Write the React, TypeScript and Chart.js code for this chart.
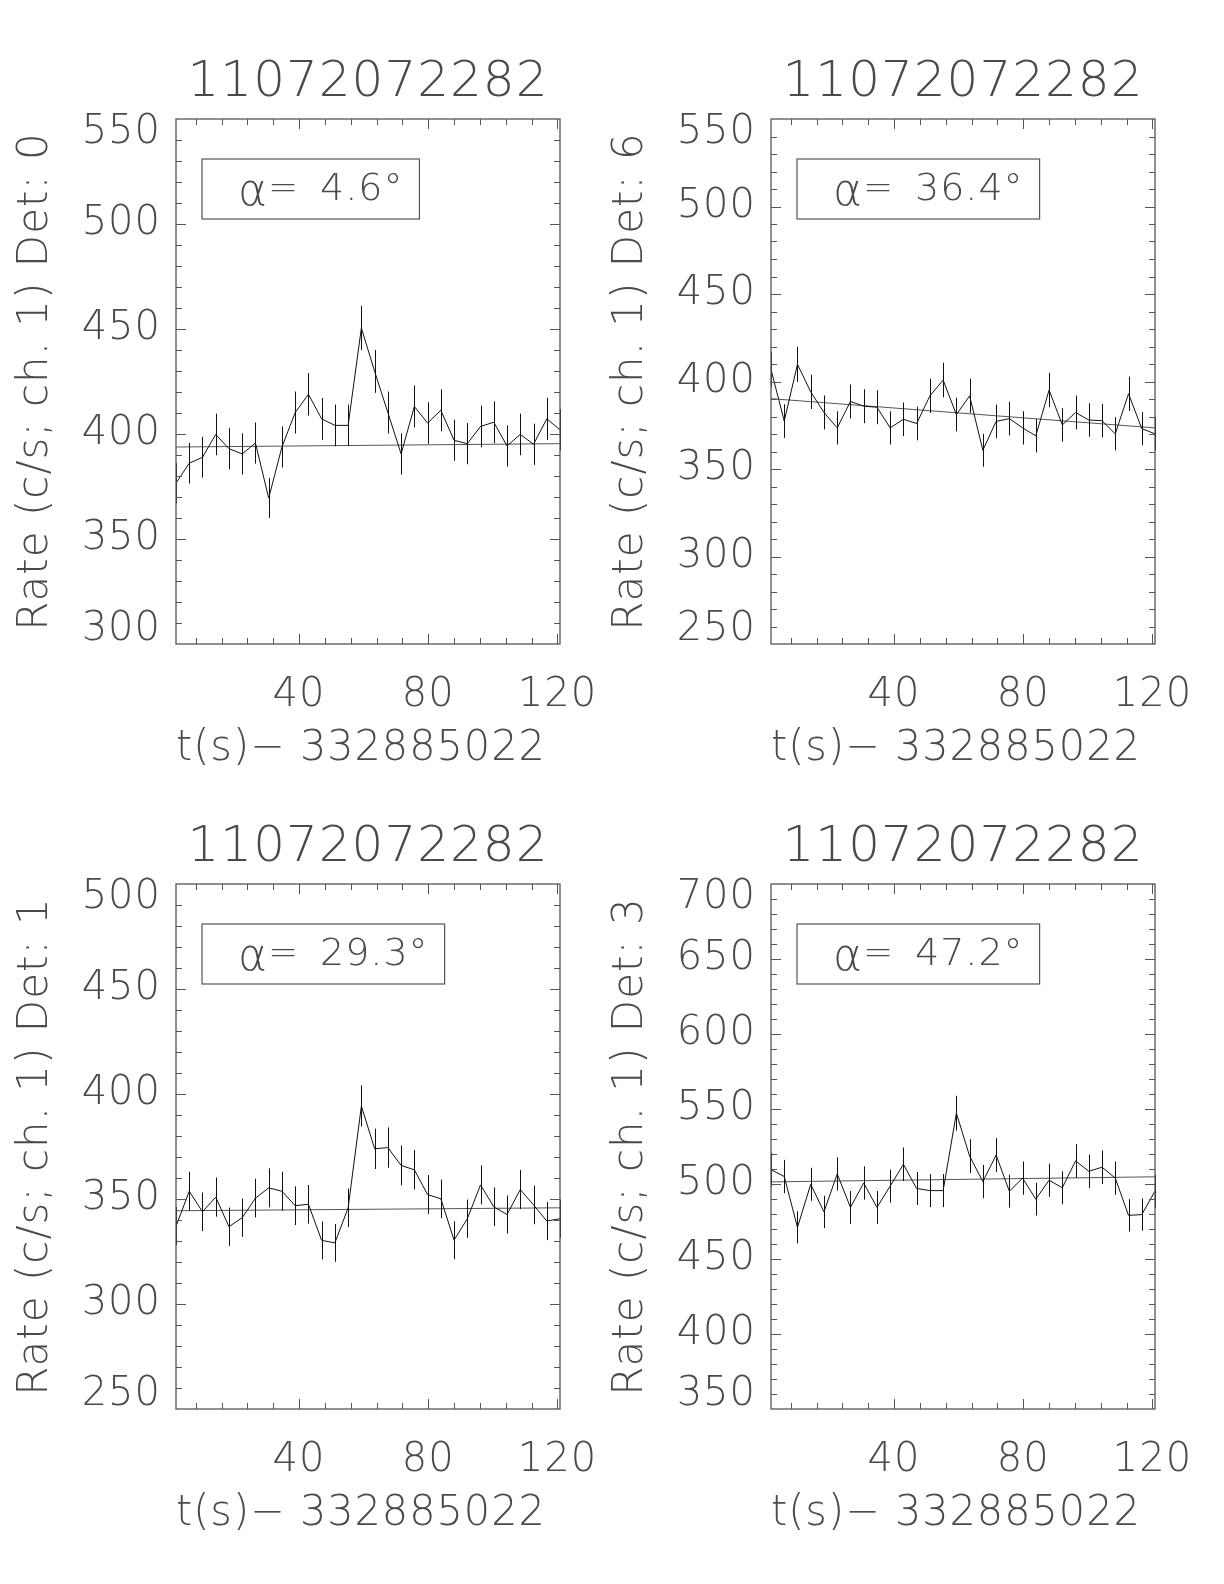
import React, { useEffect, useRef } from "react";
import { Chart, registerables } from "chart.js";

Chart.register(...registerables);

// ---------------- data ----------------
const PLOT_TITLE = "11072072282";
const X_TITLE = "t(s)\u2212 332885022 ";
const TIME = [1.9, 6.0, 10.1, 14.2, 18.3, 22.4, 26.5, 30.6, 34.7, 38.8, 42.9, 47.0, 51.1, 55.2, 59.3, 63.4, 67.5, 71.6, 75.7, 79.8, 83.9, 88.0, 92.1, 96.2, 100.3, 104.4, 108.5, 112.6, 116.7, 120.8];
const X_TICKS = [40, 80, 120];
const X_MINOR = [8, 16, 24, 32, 40, 48, 56, 64, 72, 80, 88, 96, 104, 112, 120];

const DET0_RATE = [376.6, 386.1, 388.9, 399.8, 393.0, 390.5, 395.7, 369.5, 393.8, 410.2, 418.9, 407.2, 404.1, 404.1, 450.5, 429.8, 410.2, 390.5, 413.1, 405.2, 411.3, 397.0, 395.4, 403.6, 405.6, 394.3, 399.8, 395.1, 407.2, 402.0];
const DET0_ERR = [9.6, 9.7, 9.7, 9.9, 9.8, 9.8, 9.8, 9.5, 9.8, 10.0, 10.1, 10.0, 9.9, 9.9, 10.5, 10.2, 10.0, 9.8, 10.0, 9.9, 10.0, 9.8, 9.8, 9.9, 10.0, 9.8, 9.9, 9.8, 10.0, 9.9];
const DET0_FIT = [393.8, 395.4];
const DET0_Y_TICKS = [300, 350, 400, 450, 500, 550];

const DET6_RATE = [406.9, 377.4, 409.8, 394.1, 382.3, 373.5, 388.6, 385.9, 385.3, 373.5, 378.4, 376.0, 391.8, 400.8, 381.1, 391.8, 360.7, 377.2, 378.8, 373.5, 369.0, 395.1, 375.2, 382.3, 378.0, 377.6, 370.1, 393.0, 373.1, 370.1];
const DET6_ERR = [10.0, 9.6, 10.0, 9.8, 9.7, 9.5, 9.7, 9.7, 9.7, 9.5, 9.6, 9.6, 9.8, 9.9, 9.6, 9.8, 9.4, 9.6, 9.6, 9.5, 9.5, 9.8, 9.6, 9.7, 9.6, 9.6, 9.5, 9.8, 9.5, 9.5];
const DET6_FIT = [390.2, 373.5];
const DET6_Y_TICKS = [250, 300, 350, 400, 450, 500, 550];

const DET1_RATE = [337.0, 353.7, 343.9, 350.9, 336.8, 341.1, 350.4, 355.3, 353.7, 346.8, 347.5, 330.3, 329.1, 345.8, 394.3, 373.9, 374.5, 366.0, 363.9, 352.1, 350.1, 330.4, 340.6, 356.7, 346.3, 342.6, 354.5, 347.2, 339.5, 340.6];
const DET1_ERR = [9.1, 9.3, 9.2, 9.3, 9.1, 9.1, 9.2, 9.3, 9.3, 9.2, 9.2, 9.0, 9.0, 9.2, 9.8, 9.6, 9.6, 9.5, 9.4, 9.3, 9.2, 9.0, 9.1, 9.3, 9.2, 9.1, 9.3, 9.2, 9.1, 9.1];
const DET1_FIT = [344.4, 345.8];
const DET1_Y_TICKS = [250, 300, 350, 400, 450, 500];

const DET3_RATE = [509.6, 505.0, 471.1, 499.8, 481.4, 506.7, 484.4, 500.7, 484.4, 498.6, 513.1, 497.0, 495.6, 495.6, 547.2, 518.6, 501.6, 519.3, 495.2, 503.9, 489.9, 502.5, 497.5, 515.4, 508.5, 511.2, 503.9, 479.1, 479.6, 495.2];
const DET3_ERR = [11.2, 11.1, 10.7, 11.0, 10.8, 11.1, 10.9, 11.1, 10.9, 11.0, 11.2, 11.0, 11.0, 11.0, 11.6, 11.3, 11.1, 11.3, 11.0, 11.1, 10.9, 11.1, 11.0, 11.2, 11.1, 11.2, 11.1, 10.8, 10.8, 11.0];
const DET3_FIT = [501.4, 504.8];
const DET3_Y_TICKS = [350, 400, 450, 500, 550, 600, 650, 700];

const DETECTORS = [0, 6, 1, 3];
const ALPHAS = [4.6, 36.4, 29.3, 47.2];

// ---------------- style ----------------
const FONT = "'DejaVu Sans', 'Liberation Sans', sans-serif";
const TEXT_COLOR = "#4a4a4a";
const LINE_COLOR = "#111";
const FRAME_COLOR = "#555";

type Panel = {
  det: number;
  alpha: number;
  rate: number[];
  err: number[];
  fit: number[];
  yTicks: number[];
  left: number;
  top: number;
};

const PANELS: Panel[] = [
  { det: DETECTORS[0], alpha: ALPHAS[0], rate: DET0_RATE, err: DET0_ERR, fit: DET0_FIT, yTicks: DET0_Y_TICKS, left: 0, top: 0 },
  { det: DETECTORS[1], alpha: ALPHAS[1], rate: DET6_RATE, err: DET6_ERR, fit: DET6_FIT, yTicks: DET6_Y_TICKS, left: 595, top: 0 },
  { det: DETECTORS[2], alpha: ALPHAS[2], rate: DET1_RATE, err: DET1_ERR, fit: DET1_FIT, yTicks: DET1_Y_TICKS, left: 0, top: 765 },
  { det: DETECTORS[3], alpha: ALPHAS[3], rate: DET3_RATE, err: DET3_ERR, fit: DET3_FIT, yTicks: DET3_Y_TICKS, left: 595, top: 765 },
];

const CANVAS_W = 600;
const CANVAS_H = 790;

function makeDecor(p: Panel) {
  return {
    id: "decor",
    beforeDraw(chart: any) {
      chart.ctx.letterSpacing = "1px";
    },
    afterDatasetsDraw(chart: any) {
      const { ctx, chartArea: a, scales } = chart;
      const x = scales.x;
      const y = scales.y;
      ctx.save();
      // error bars
      ctx.strokeStyle = LINE_COLOR;
      ctx.lineWidth = 1;
      ctx.beginPath();
      p.rate.forEach((v, i) => {
        const px = Math.round(x.getPixelForValue(TIME[i])) + 0.5;
        ctx.moveTo(px, y.getPixelForValue(v - p.err[i]));
        ctx.lineTo(px, y.getPixelForValue(v + p.err[i]));
      });
      ctx.stroke();

      // frame
      ctx.strokeStyle = FRAME_COLOR;
      ctx.lineWidth = 1.3;
      ctx.strokeRect(a.left, a.top, a.right - a.left, a.bottom - a.top);

      // ticks (inward, all four sides)
      ctx.lineWidth = 1;
      ctx.beginPath();
      X_MINOR.forEach((v) => {
        const px = Math.round(x.getPixelForValue(v)) + 0.5;
        const len = X_TICKS.includes(v) ? 10 : 6;
        ctx.moveTo(px, a.bottom);
        ctx.lineTo(px, a.bottom - len);
        ctx.moveTo(px, a.top);
        ctx.lineTo(px, a.top + len);
      });
      const ymin = p.yTicks[0];
      const ymax = p.yTicks[p.yTicks.length - 1];
      for (let v = ymin + 10; v < ymax; v += 10) {
        const py = Math.round(y.getPixelForValue(v)) + 0.5;
        const len = p.yTicks.includes(v) ? 10 : 6;
        ctx.moveTo(a.left, py);
        ctx.lineTo(a.left + len, py);
        ctx.moveTo(a.right, py);
        ctx.lineTo(a.right - len, py);
      }
      ctx.stroke();

      // annotation box
      const bx = a.left + 26;
      const by = a.top + 40;
      const bh = 60;
      const cy = by + bh / 2 + 1;
      const tx = bx + 36;
      const nx = tx + 82;
      const num = `${p.alpha.toFixed(1)}\u00b0`;
      ctx.fillStyle = TEXT_COLOR;
      ctx.textBaseline = "middle";
      ctx.textAlign = "left";
      ctx.letterSpacing = "0px";
      ctx.font = `200 44px ${FONT}`;
      ctx.fillText("\u03b1", tx, cy + 4);
      ctx.font = `200 36px ${FONT}`;
      ctx.fillText("=", tx + 30, cy);
      ctx.font = `200 38px ${FONT}`;
      ctx.letterSpacing = "1px";
      ctx.fillText(num, nx, cy);
      const nw = ctx.measureText(num).width;
      const bw = nx + nw + 16 - bx;
      ctx.strokeStyle = FRAME_COLOR;
      ctx.lineWidth = 1.2;
      ctx.strokeRect(bx, by, bw, bh);
      ctx.restore();
    },
  };
}

function PanelChart({ p }: { p: Panel }) {
  const ref = useRef<HTMLCanvasElement | null>(null);
  useEffect(() => {
    if (!ref.current) return;
    const last = TIME.length - 1;
    const chart = new Chart(ref.current, {
      type: "line",
      data: {
        datasets: [
          {
            data: TIME.map((t, i) => ({ x: t, y: p.rate[i] })),
            borderColor: LINE_COLOR,
            borderWidth: 1,
            pointRadius: 0,
            tension: 0,
            fill: false,
          },
          {
            data: [
              { x: TIME[0], y: p.fit[0] },
              { x: TIME[last], y: p.fit[1] },
            ],
            borderColor: "#555",
            borderWidth: 1,
            pointRadius: 0,
            fill: false,
          },
        ],
      },
      options: {
        responsive: false,
        animation: false,
        devicePixelRatio: 1,
        layout: { padding: { left: 0, right: 40, top: 0, bottom: 0 } },
        plugins: {
          legend: { display: false },
          tooltip: { enabled: false },
          title: {
            display: true,
            fullSize: false,
            text: PLOT_TITLE,
            color: TEXT_COLOR,
            font: { family: FONT, size: 50, weight: "200", lineHeight: 1.2 },
            padding: { top: 53, bottom: 6 },
          },
        },
        scales: {
          x: {
            type: "linear",
            min: TIME[0],
            max: TIME[last],
            afterBuildTicks: (s: any) => {
              s.ticks = X_TICKS.map((v) => ({ value: v }));
            },
            afterFit: (s: any) => {
              s.height = 146;
              s.paddingLeft = 0;
              s.paddingRight = 0;
            },
            grid: { display: false, drawTicks: false },
            border: { display: false },
            ticks: {
              color: TEXT_COLOR,
              font: { family: FONT, size: 40, weight: "200", lineHeight: 1.2 },
              padding: 28,
              maxRotation: 0,
              autoSkip: false,
              callback: (v: any) => String(v),
            },
            title: {
              display: true,
              text: X_TITLE,
              color: TEXT_COLOR,
              font: { family: FONT, size: 42, weight: "200", lineHeight: 1.2 },
              padding: { top: 0, bottom: 16 },
            },
          },
          y: {
            type: "linear",
            min: p.yTicks[0],
            max: p.yTicks[p.yTicks.length - 1],
            afterBuildTicks: (s: any) => {
              s.ticks = p.yTicks.map((v) => ({ value: v }));
            },
            afterFit: (s: any) => {
              s.width = 176;
              s.paddingTop = 0;
              s.paddingBottom = 0;
            },
            grid: { display: false, drawTicks: false },
            border: { display: false },
            ticks: {
              color: TEXT_COLOR,
              font: { family: FONT, size: 40, weight: "200", lineHeight: 0.7 },
              padding: 15,
              autoSkip: false,
              callback: (v: any, i: number, ticks: any[]) => {
                const s = String(v);
                if (i === 0) return [s, ""];
                if (i === ticks.length - 1) return ["", s];
                return s;
              },
            },
            title: {
              display: true,
              text: `Rate (c/s; ch. 1) Det: ${p.det}`,
              color: TEXT_COLOR,
              font: { family: FONT, size: 42, weight: "200", lineHeight: 1.2 },
              padding: { top: 11, bottom: 0 },
            },
          },
        },
      },
      plugins: [makeDecor(p)],
    } as any);
    return () => chart.destroy();
  }, [p]);
  return (
    <canvas
      ref={ref}
      width={CANVAS_W}
      height={CANVAS_H}
      style={{ position: "absolute", left: p.left, top: p.top, width: CANVAS_W, height: CANVAS_H }}
    />
  );
}

export default function App() {
  return (
    <div style={{ position: "absolute", left: 0, top: 0, width: 1224, height: 1584, background: "#fff" }}>
      {PANELS.map((p, i) => (
        <PanelChart key={i} p={p} />
      ))}
    </div>
  );
}
